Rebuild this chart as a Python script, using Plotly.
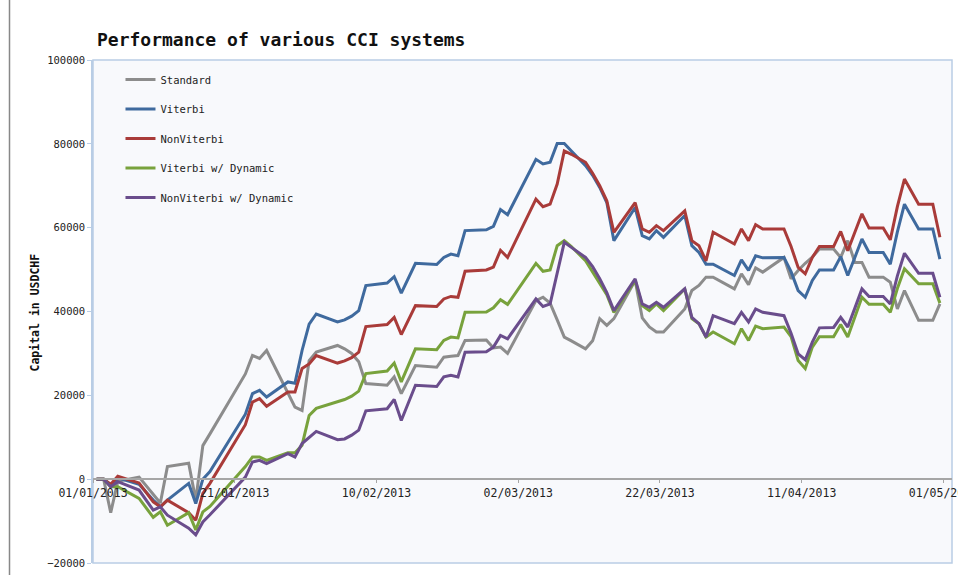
import plotly.graph_objects as go

dates = [
    '2013-01-01', '2013-01-02', '2013-01-03', '2013-01-04', '2013-01-07', '2013-01-09',
    '2013-01-10', '2013-01-11', '2013-01-14', '2013-01-15', '2013-01-16', '2013-01-17',
    '2013-01-22', '2013-01-23', '2013-01-24', '2013-01-25', '2013-01-28', '2013-01-29',
    '2013-01-30', '2013-01-31', '2013-02-01', '2013-02-04', '2013-02-05', '2013-02-06',
    '2013-02-07', '2013-02-08', '2013-02-11', '2013-02-12', '2013-02-13', '2013-02-15',
    '2013-02-18', '2013-02-19', '2013-02-20', '2013-02-21', '2013-02-22', '2013-02-25',
    '2013-02-26', '2013-02-27', '2013-02-28', '2013-03-04', '2013-03-05', '2013-03-06',
    '2013-03-07', '2013-03-08', '2013-03-09', '2013-03-11', '2013-03-12', '2013-03-13',
    '2013-03-14', '2013-03-15', '2013-03-18', '2013-03-19', '2013-03-20', '2013-03-21',
    '2013-03-22', '2013-03-25', '2013-03-26', '2013-03-27', '2013-03-28', '2013-03-29',
    '2013-04-01', '2013-04-02', '2013-04-03', '2013-04-04', '2013-04-05', '2013-04-08',
    '2013-04-09', '2013-04-10', '2013-04-11', '2013-04-12', '2013-04-13', '2013-04-15',
    '2013-04-16', '2013-04-17', '2013-04-18', '2013-04-19', '2013-04-20', '2013-04-22',
    '2013-04-23', '2013-04-24', '2013-04-25', '2013-04-27', '2013-04-29', '2013-04-30',
]

standard = [
    0, 0, -8000, -500, 500, -3500, -5700, 3000, 3800, -5000, 8000, 10800,
    25100, 29500, 28800, 30700, 20600, 17200, 16400, 28300, 30300,
    31900, 31100, 30000, 28000, 22800, 22400, 24400, 20400, 27100,
    26700, 29100, 29300, 29500, 33100, 33200, 31300, 31500, 30000,
    42600, 43400, 42000, 38000, 33900, 33000, 31100, 33000, 38300, 36700, 38300,
    47400, 38500, 36300, 35100, 35100, 40600, 45000, 46200, 48200, 48200,
    45400, 49000, 46400, 50400, 49400, 52900, 47800, 49800, 51500, 53000, 54900,
    54900, 52900, 56900, 51700, 51700, 48200, 48200, 47000, 40600, 45000,
    37900, 37900, 41800,
]
viterbi = [
    0, 0, -1500, 300, -1200, -5000, -6600, -5000, -1000, -5800, 0, 1800,
    15500, 20400, 21200, 19600, 23200, 22900, 30700, 37000, 39400,
    37500, 38000, 38900, 40200, 46200, 46800, 48300, 44400, 51500,
    51200, 52900, 53700, 53300, 59300, 59500, 60300, 64300, 63100,
    76300, 75200, 75600, 80100, 80100, 78300, 74800, 72500, 69600, 66000, 56900,
    64800, 58100, 57300, 59300, 57700, 62900, 55700, 54100, 51300, 51300,
    48600, 52300, 49800, 53300, 52800, 52900, 49500, 45000, 43400, 47400, 49900,
    49900, 53100, 48600, 52900, 57300, 54100, 54100, 51300, 59000, 65600,
    59700, 59700, 52500,
]
non_viterbi = [
    0, 0, -1200, 700, -900, -5400, -6600, -5000, -8000, -9800, -3400, -1000,
    13000, 18400, 19200, 17400, 20800, 20800, 26400, 27500, 29500,
    27700, 28200, 29000, 30300, 36400, 36900, 38600, 34500, 41400,
    41200, 43000, 43600, 43400, 49600, 49900, 50600, 54600, 52900,
    66800, 65000, 65600, 70400, 78300, 77500, 75600, 73000, 70000, 66400, 58900,
    66000, 59700, 58900, 60500, 59300, 64000, 56900, 55700, 52100, 58900,
    56100, 59700, 56900, 60700, 59700, 59700, 55500, 50500, 49000, 52900, 55500,
    55500, 59100, 54500, 58900, 63300, 59900, 59900, 57100, 65000, 71600,
    65600, 65600, 57700,
]
viterbi_dyn = [
    0, 0, -1800, -1800, -4600, -9100, -7800, -11000, -8000, -12100, -7800, -6500,
    3000, 5300, 5300, 4500, 6300, 6300, 8100, 15200, 16900,
    18500, 19000, 19800, 21000, 25200, 25800, 27700, 23200, 31100,
    30900, 33100, 33900, 33700, 39800, 39900, 40900, 42800, 41700,
    51500, 49600, 49900, 55700, 56900, 55500, 52100, 49300, 46700, 44000, 39800,
    47400, 41400, 40200, 41800, 40200, 45400, 38300, 37100, 33900, 35100,
    32300, 35900, 33100, 36500, 35900, 36300, 34000, 28300, 26400, 31500, 34000,
    34000, 36900, 33900, 38600, 43400, 41700, 41700, 39800, 45500, 50200,
    46600, 46600, 42000,
]
non_viterbi_dyn = [
    0, 0, -1800, -600, -2600, -7400, -6600, -8600, -11700, -13300, -10200, -8500,
    500, 4100, 4500, 3700, 6100, 5300, 8500, 10000, 11400,
    9400, 9600, 10500, 11700, 16300, 16800, 19000, 14000, 22400,
    22100, 24400, 24800, 24400, 30300, 30400, 31500, 34300, 33500,
    43000, 41200, 41800, 49000, 56500, 55300, 52900, 50700, 47800, 44500, 40200,
    47800, 41800, 41000, 42200, 41000, 45400, 38600, 37100, 33900, 39000,
    37100, 39800, 37500, 40600, 39800, 39000, 34800, 29900, 28500, 32700, 36100,
    36200, 38600, 36300, 40800, 45400, 43600, 43600, 41800, 48500, 53900,
    49100, 49100, 43400,
]

series = [
    ('Standard', standard, '#8c8c8c'),
    ('Viterbi', viterbi, '#3f6a9e'),
    ('NonViterbi', non_viterbi, '#a93b39'),
    ('Viterbi w/ Dynamic', viterbi_dyn, '#78a23c'),
    ('NonViterbi w/ Dynamic', non_viterbi_dyn, '#6a4d8c'),
]

mono = 'DejaVu Sans Mono'

fig = go.Figure()
for name, values, color in series:
    fig.add_trace(go.Scatter(
        x=dates, y=values, name=name, mode='lines', legendgroup=name,
        line=dict(color=color, width=3),
        xperiod=86400000, xperiodalignment='middle'))

fig.update_layout(
    width=958, height=575,
    margin=dict(l=93, r=6, t=60, b=12, autoexpand=False),
    paper_bgcolor='white', plot_bgcolor='#f8f9fc',
    font=dict(family=mono, size=10, color='#222'),
    title=dict(text='<b>Performance of various CCI systems</b>',
               font=dict(family=mono, size=18, color='#111'),
               xref='container', x=97 / 958, xanchor='left',
               yref='container', y=1 - 40 / 575, yanchor='middle'),
    legend=dict(x=0.032, y=0.99, xanchor='left', yanchor='top',
                bgcolor='rgba(0,0,0,0)', font=dict(family=mono, size=10.5),
                tracegroupgap=10.5, itemwidth=30),
    showlegend=True,
)

fig.update_xaxes(
    type='date', range=['2013-01-01', '2013-05-02 05:00'],
    tick0='2013-01-01', dtick=20 * 86400000, tickformat='%d/%m/%Y',
    anchor='free', position=1 / 6, ticklabeloverflow='allow', automargin=False,
    showline=True, linecolor='#a6a6a6', linewidth=1.5,
    ticks='outside', ticklen=3, tickcolor='#a6a6a6',
    showgrid=False, zeroline=False,
    tickfont=dict(family=mono, size=11.5, color='#222'))

fig.update_yaxes(
    range=[-20000, 100000], dtick=20000, tickformat='d', automargin=False,
    showline=True, linecolor='#b9cde5', linewidth=1.5,
    ticks='outside', ticklen=4, tickcolor='#b9cde5',
    showgrid=False, zeroline=False,
    tickfont=dict(family=mono, size=10.5, color='#222'))

fig.add_shape(type='rect', xref='paper', yref='paper', x0=0, x1=1, y0=0, y1=1,
              line=dict(color='#b9cde5', width=1.5), layer='below')
fig.add_shape(type='line', xref='paper', yref='paper',
              x0=(9.5 - 93) / 859, x1=(9.5 - 93) / 859, y0=-0.03, y1=1.13,
              line=dict(color='#888888', width=1.5))

fig.add_annotation(text='<b>Capital in USDCHF</b>', textangle=-90,
                   xref='paper', yref='paper', x=(35 - 93) / 859, y=(563 - 312) / 504,
                   xanchor='center', yanchor='middle',
                   showarrow=False, font=dict(family=mono, size=11.5, color='#111'))

fig.write_html('out.html', config={'displayModeBar': False},
               post_script="document.body.style.margin='0';")
